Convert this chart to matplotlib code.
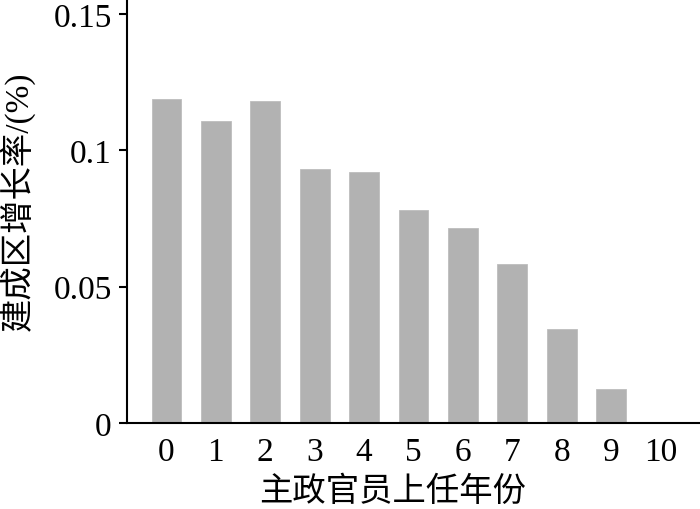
import matplotlib
matplotlib.use("Agg")
import matplotlib.pyplot as plt

# ── data ─────────────────────────────────────────────
years  = [0, 1, 2, 3, 4, 5, 6, 7, 8, 9, 10]
growth = [0.1188, 0.1107, 0.1182, 0.0931, 0.0922, 0.0781,
          0.0716, 0.0582, 0.0344, 0.0125, 0.0]
y_ticks  = [0, 0.05, 0.1, 0.15]
y_labels = ["0", "0.05", "0.1", "0.15"]

XLABEL = "主政官员上任年份"
YLABEL = "建成区增长率/(%)"

plt.rcParams["font.family"] = ["Liberation Serif", "Noto Sans CJK SC"]

fig = plt.figure(figsize=(7, 5.1), dpi=100)
ax = fig.add_axes([127 / 700, 86 / 510, 573 / 700, 424 / 510])

ax.bar(years, growth, width=0.6, color="#b2b2b2", edgecolor="#bdbdbd", linewidth=0.6)

ax.set_xlim(-0.8, 10.8)
ax.set_ylim(0, 0.1555)
ax.set_xticks(years)
ax.set_xticklabels([str(y) for y in years])
ax.set_yticks(y_ticks)
ax.set_yticklabels(y_labels)

ax.tick_params(axis="x", length=0, pad=10, labelsize=24)
ax.tick_params(axis="y", length=6, width=1.5, pad=5, labelsize=24, direction="out")

for s in ["top", "right"]:
    ax.spines[s].set_visible(False)
for s in ["left", "bottom"]:
    ax.spines[s].set_linewidth(1.5)

# labels sit a bit off-centre in the original
ax.set_xlabel(XLABEL, fontsize=24, family=["Noto Sans CJK SC"], va="center")
ax.xaxis.set_label_coords(0.464, -0.160)
ax.set_ylabel(YLABEL, fontsize=24, va="center")
ax.yaxis.set_label_coords(-0.192, 0.526)

fig.savefig("out.png", dpi=100)
